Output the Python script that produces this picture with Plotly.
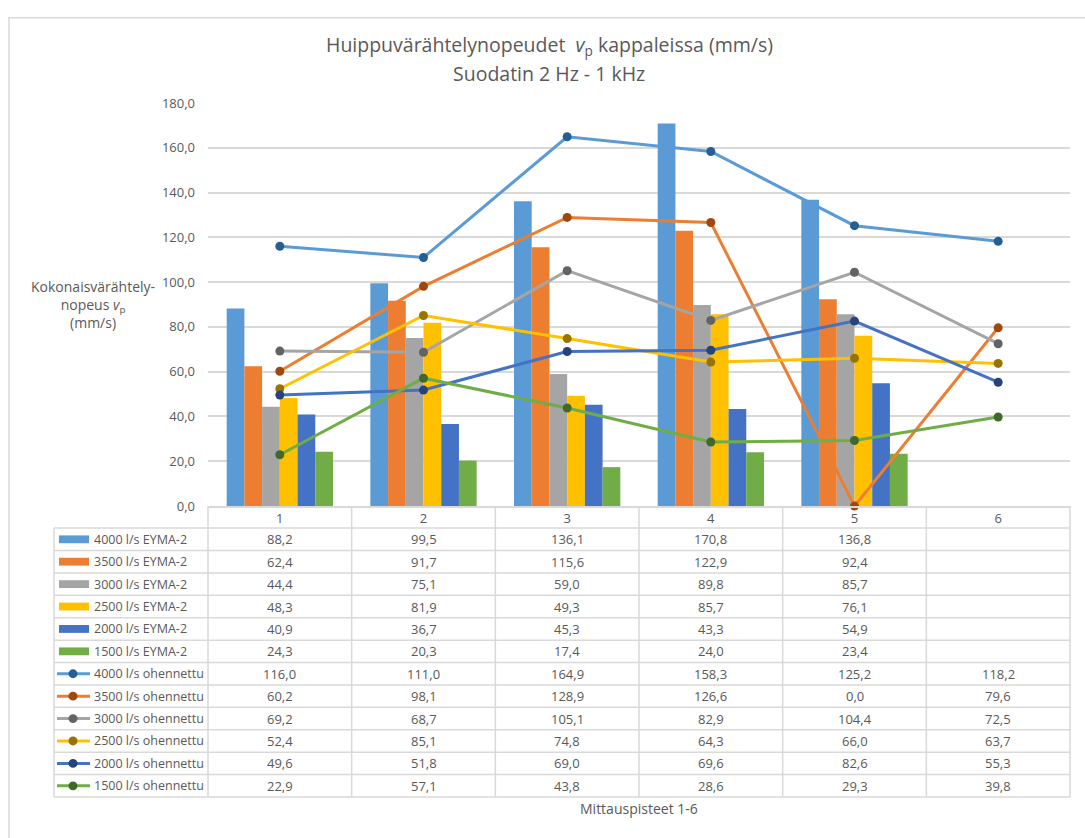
import plotly.graph_objects as go

# Measurement points
categories = ["1", "2", "3", "4", "5", "6"]

# Peak vibration velocities (mm/s), EYMA-2 measurements (bars)
bar_names = ["4000 l/s EYMA-2", "3500 l/s EYMA-2", "3000 l/s EYMA-2",
             "2500 l/s EYMA-2", "2000 l/s EYMA-2", "1500 l/s EYMA-2"]
eyma_4000 = [88.2, 99.5, 136.1, 170.8, 136.8, None]
eyma_3500 = [62.4, 91.7, 115.6, 122.9, 92.4, None]
eyma_3000 = [44.4, 75.1, 59.0, 89.8, 85.7, None]
eyma_2500 = [48.3, 81.9, 49.3, 85.7, 76.1, None]
eyma_2000 = [40.9, 36.7, 45.3, 43.3, 54.9, None]
eyma_1500 = [24.3, 20.3, 17.4, 24.0, 23.4, None]

# Thinned-out measurements (lines)
line_names = ["4000 l/s ohennettu", "3500 l/s ohennettu", "3000 l/s ohennettu",
              "2500 l/s ohennettu", "2000 l/s ohennettu", "1500 l/s ohennettu"]
ohen_4000 = [116.0, 111.0, 164.9, 158.3, 125.2, 118.2]
ohen_3500 = [60.2, 98.1, 128.9, 126.6, 0.0, 79.6]
ohen_3000 = [69.2, 68.7, 105.1, 82.9, 104.4, 72.5]
ohen_2500 = [52.4, 85.1, 74.8, 64.3, 66.0, 63.7]
ohen_2000 = [49.6, 51.8, 69.0, 69.6, 82.6, 55.3]
ohen_1500 = [22.9, 57.1, 43.8, 28.6, 29.3, 39.8]

bar_series = [eyma_4000, eyma_3500, eyma_3000, eyma_2500, eyma_2000, eyma_1500]
line_series = [ohen_4000, ohen_3500, ohen_3000, ohen_2500, ohen_2000, ohen_1500]

colors = ["#5B9BD5", "#ED7D31", "#A5A5A5", "#FFC000", "#4472C4", "#70AD47"]
marker_colors = ["#255E91", "#9E480E", "#636363", "#997300", "#264478", "#43682B"]

W, H = 1085, 838
TEXT = "#595959"
GRID = "#D9D9D9"
FONT = "Open Sans, sans-serif"
FS = 13

# Plot area in pixels
PX0, PX1 = 208, 1070
PY_TOP, PY_BOT = 96, 508


def px(x):
    return x / W


def py(y):
    return 1 - y / H


fig = go.Figure()

for name, vals, col in zip(bar_names, bar_series, colors):
    fig.add_trace(go.Bar(x=categories, y=vals, name=name, marker_color=col,
                         marker_line_width=0, showlegend=False))

for name, vals, col, mcol in zip(line_names, line_series, colors, marker_colors):
    fig.add_trace(go.Scatter(x=categories, y=vals, name=name, mode="lines+markers",
                             line=dict(color=col, width=3),
                             marker=dict(color=mcol, size=9),
                             cliponaxis=False, showlegend=False))

shapes = []
annotations = []

# Outer chart border (left / top visible)
shapes.append(dict(type="rect", xref="paper", yref="paper",
                   x0=px(9), x1=px(1095), y0=py(9), y1=py(850),
                   line=dict(color="#D9D9D9", width=1.5)))

# Data table below the plot area
n_cat = len(categories)
cat_w = (PX1 - PX0) / n_cat
ROW0 = 530.5
ROW_H = 22.9
LEG_X0 = 54
all_names = bar_names + line_names
all_vals = bar_series + line_series
n_rows = len(all_names)
TABLE_BOT = ROW0 + ROW_H * n_rows

# horizontal lines
for i in range(n_rows + 1):
    y = ROW0 + ROW_H * i
    shapes.append(dict(type="line", xref="paper", yref="paper",
                       x0=px(LEG_X0), x1=px(PX1), y0=py(y), y1=py(y),
                       line=dict(color=GRID, width=1.5)))
# vertical lines
shapes.append(dict(type="line", xref="paper", yref="paper",
                   x0=px(LEG_X0), x1=px(LEG_X0), y0=py(ROW0), y1=py(TABLE_BOT),
                   line=dict(color=GRID, width=1.5)))
for k in range(n_cat + 1):
    x = PX0 + cat_w * k
    shapes.append(dict(type="line", xref="paper", yref="paper",
                       x0=px(x), x1=px(x), y0=py(PY_BOT), y1=py(TABLE_BOT),
                       line=dict(color=GRID, width=1.5)))

# legend keys and cell values
for i, (name, vals) in enumerate(zip(all_names, all_vals)):
    yc = ROW0 + ROW_H * (i + 0.5)
    col = colors[i % 6]
    if i < 6:
        shapes.append(dict(type="rect", xref="paper", yref="paper",
                           x0=px(59), x1=px(89), y0=py(yc - 4), y1=py(yc + 4),
                           fillcolor=col, line=dict(width=0)))
    else:
        shapes.append(dict(type="line", xref="paper", yref="paper",
                           x0=px(57), x1=px(90), y0=py(yc), y1=py(yc),
                           line=dict(color=col, width=3)))
        shapes.append(dict(type="circle", xref="paper", yref="paper",
                           x0=px(73 - 4.5), x1=px(73 + 4.5),
                           y0=py(yc - 4.5), y1=py(yc + 4.5),
                           fillcolor=marker_colors[i % 6], line=dict(width=0)))
    annotations.append(dict(xref="paper", yref="paper", x=px(92), y=py(yc),
                            xanchor="left", yanchor="middle", showarrow=False,
                            text=name, font=dict(size=12.5, color=TEXT, family=FONT)))
    for k, v in enumerate(vals):
        if v is None:
            continue
        annotations.append(dict(xref="paper", yref="paper",
                                x=px(PX0 + cat_w * (k + 0.5)), y=py(yc),
                                xanchor="center", yanchor="middle", showarrow=False,
                                text=f"{v:.1f}".replace(".", ","),
                                font=dict(size=FS, color=TEXT, family=FONT)))

# Y-axis title
annotations.append(dict(xref="paper", yref="paper", x=px(93), y=py(302),
                        xanchor="center", yanchor="middle", showarrow=False, align="center",
                        text="Kokonaisvärähtely-<br>nopeus <i>v</i><sub>p</sub><br>(mm/s)",
                        font=dict(size=14, color=TEXT, family=FONT)))
# X-axis title
annotations.append(dict(xref="paper", yref="paper", x=px(639), y=py(817),
                        xanchor="center", yanchor="middle", showarrow=False,
                        text="Mittauspisteet 1-6",
                        font=dict(size=14, color=TEXT, family=FONT)))
# Chart title (two lines)
annotations.append(dict(xref="paper", yref="paper", x=px(549), y=py(37),
                        xanchor="center", yanchor="middle", showarrow=False,
                        text="Huippuvärähtelynopeudet  <i>v</i><sub>p</sub> kappaleissa (mm/s)",
                        font=dict(size=19.5, color=TEXT, family=FONT)))
annotations.append(dict(xref="paper", yref="paper", x=px(549), y=py(66),
                        xanchor="center", yanchor="middle", showarrow=False,
                        text="Suodatin 2 Hz - 1 kHz",
                        font=dict(size=19.5, color=TEXT, family=FONT)))

fig.update_layout(
    width=W, height=H,
    margin=dict(l=0, r=0, t=0, b=0),
    paper_bgcolor="white", plot_bgcolor="white",
    barmode="group", bargap=0.26, bargroupgap=0,
    separators=", ",
    font=dict(family=FONT, color=TEXT),
    xaxis=dict(domain=[px(PX0), px(PX1)], type="category",
               categoryorder="array", categoryarray=categories,
               showgrid=False, showline=True, linecolor=GRID, linewidth=1.5,
               ticks="", ticklabelstandoff=0,
               tickfont=dict(size=FS, color=TEXT, family=FONT)),
    yaxis=dict(domain=[py(PY_BOT), py(PY_TOP)], range=[0, 180], dtick=20,
               tickformat=".1f", showgrid=True, gridcolor=GRID, gridwidth=1.5,
               zeroline=False, showline=False, ticks="", ticklabelstandoff=12,
               tickfont=dict(size=FS, color=TEXT, family=FONT)),
    shapes=shapes,
    annotations=annotations,
)

fig.write_html("out.html")
